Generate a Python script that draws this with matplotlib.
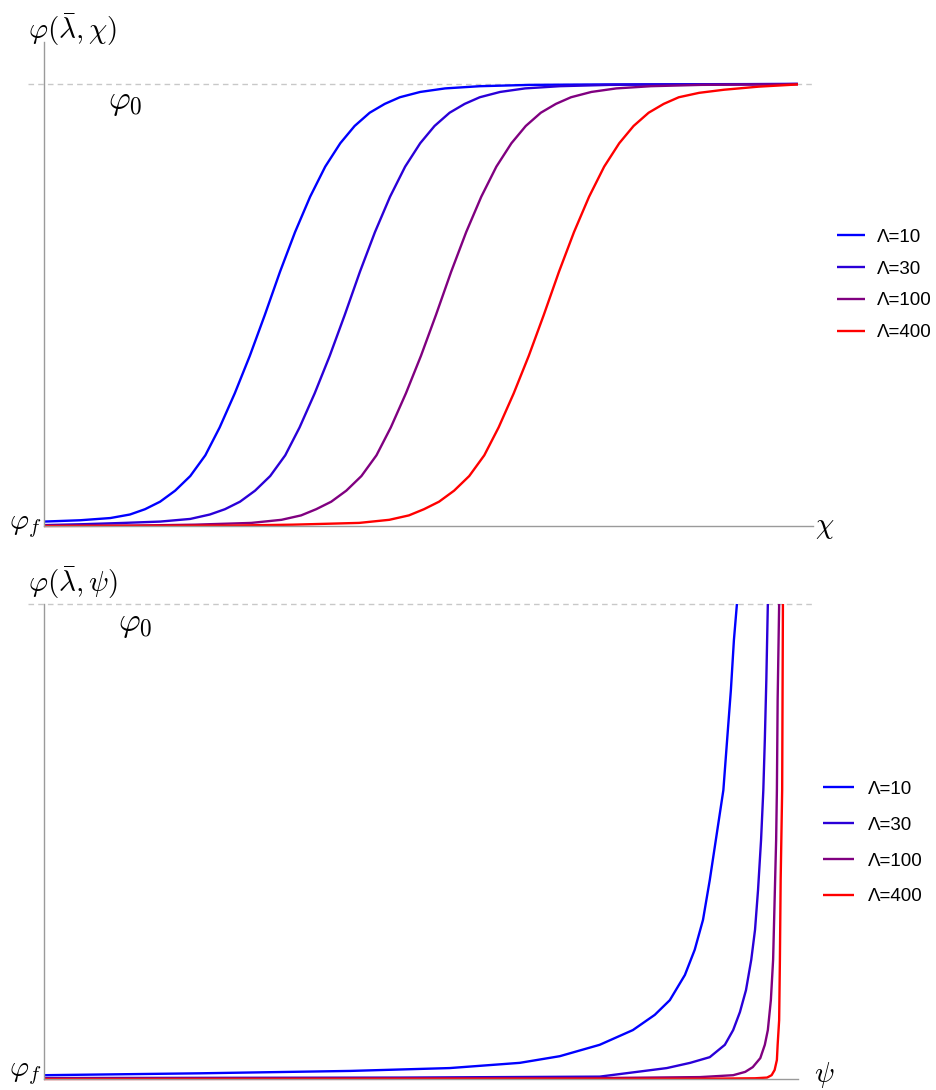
import matplotlib.pyplot as plt
import numpy as np

plt.rcParams['mathtext.fontset'] = 'cm'
plt.rcParams['font.family'] = ['Liberation Sans', 'DejaVu Sans']

labels = ['Λ=10', 'Λ=30', 'Λ=100', 'Λ=400']
colors = ['#0000ff', '#2a00d8', '#800080', '#ff0000']

# top panel: phi(lambda, chi)
chi_10 = [0, 0.48, 0.88, 1.14, 1.34, 1.54, 1.74, 1.94, 2.14, 2.33, 2.53, 2.73, 2.93, 3.13,
          3.33, 3.53, 3.73, 3.93, 4.12, 4.32, 4.52, 4.72, 4.99, 5.32, 5.78, 6.45, 7.37, 10]
phi_10 = [0.010, 0.013, 0.018, 0.026, 0.038, 0.055, 0.080, 0.113, 0.160, 0.223, 0.300, 0.385,
          0.478, 0.575, 0.665, 0.745, 0.813, 0.866, 0.905, 0.935, 0.955, 0.970, 0.982, 0.990,
          0.995, 0.998, 0.999, 1.0]
chi_30 = [0, 0.5, 1.06, 1.54, 1.94, 2.20, 2.40, 2.60, 2.80, 3.00, 3.20, 3.39, 3.59, 3.79, 3.99,
          4.19, 4.39, 4.59, 4.79, 4.99, 5.18, 5.38, 5.58, 5.78, 6.05, 6.38, 6.84, 7.51, 8.43, 10]
phi_30 = [0.002, 0.004, 0.007, 0.010, 0.016, 0.026, 0.038, 0.055, 0.080, 0.113, 0.160, 0.223,
          0.300, 0.385, 0.478, 0.575, 0.665, 0.745, 0.813, 0.866, 0.905, 0.935, 0.955, 0.970,
          0.982, 0.990, 0.995, 0.998, 0.999, 1.0]
chi_100 = [0, 1.2, 2.0, 2.75, 3.15, 3.41, 3.61, 3.81, 4.01, 4.21, 4.41, 4.60, 4.80, 5.00, 5.20,
           5.40, 5.60, 5.80, 6.00, 6.20, 6.39, 6.59, 6.79, 6.99, 7.26, 7.59, 8.05, 8.72, 9.64, 10]
phi_100 = [0.0005, 0.001, 0.003, 0.007, 0.014, 0.024, 0.038, 0.055, 0.080, 0.113, 0.160, 0.223,
           0.300, 0.385, 0.478, 0.575, 0.665, 0.745, 0.813, 0.866, 0.905, 0.935, 0.955, 0.970,
           0.982, 0.990, 0.995, 0.998, 0.999, 1.0]
chi_400 = [0, 2.5, 3.3, 4.18, 4.58, 4.84, 5.04, 5.24, 5.44, 5.64, 5.84, 6.03, 6.23, 6.43, 6.63,
           6.83, 7.03, 7.23, 7.43, 7.63, 7.82, 8.02, 8.22, 8.42, 8.69, 9.02, 9.48, 10]
phi_400 = [0.0, 0.001, 0.003, 0.007, 0.014, 0.024, 0.038, 0.055, 0.080, 0.113, 0.160, 0.223,
           0.300, 0.385, 0.478, 0.575, 0.665, 0.745, 0.813, 0.866, 0.905, 0.935, 0.955, 0.970,
           0.980, 0.987, 0.994, 0.999]

# bottom panel: phi(lambda, psi)
psi_10 = [0, 2.07, 4.06, 5.38, 6.31, 6.84, 7.37, 7.81, 8.10, 8.30, 8.50, 8.63, 8.74, 8.83,
          8.91, 8.97, 9.01, 9.06, 9.11, 9.15, 9.19]
phib_10 = [0.008, 0.012, 0.017, 0.023, 0.034, 0.048, 0.072, 0.103, 0.135, 0.166, 0.219, 0.272,
           0.335, 0.419, 0.503, 0.566, 0.608, 0.714, 0.819, 0.924, 1.0]
psi_30 = [0, 4.72, 7.37, 8.26, 8.57, 8.83, 9.03, 9.14, 9.23, 9.31, 9.38, 9.43, 9.47, 9.51,
          9.54, 9.56, 9.58, 9.60]
phib_30 = [0.002, 0.003, 0.005, 0.023, 0.034, 0.046, 0.072, 0.103, 0.141, 0.187, 0.251, 0.314,
           0.398, 0.503, 0.608, 0.714, 0.84, 1.0]
psi_100 = [0, 7.37, 8.70, 9.14, 9.30, 9.40, 9.50, 9.56, 9.60, 9.64, 9.67, 9.69, 9.71, 9.72,
           9.73, 9.75]
phib_100 = [0.001, 0.002, 0.004, 0.008, 0.015, 0.025, 0.044, 0.072, 0.103, 0.166, 0.251, 0.377,
            0.503, 0.608, 0.798, 1.0]
psi_400 = [0, 8.70, 9.43, 9.59, 9.65, 9.69, 9.72, 9.73, 9.75, 9.76, 9.77, 9.79, 9.80]
phib_400 = [0.0, 0.0006, 0.0015, 0.003, 0.008, 0.019, 0.04, 0.072, 0.124, 0.251, 0.419, 0.608,
            1.0]

top_x = [chi_10, chi_30, chi_100, chi_400]
top_y = [phi_10, phi_30, phi_100, phi_400]
bot_x = [psi_10, psi_30, psi_100, psi_400]
bot_y = [phib_10, phib_30, phib_100, phib_400]

fig = plt.figure(figsize=(9.36, 10.9), dpi=100)
W, H = 936, 1090

def make_axes(left, bottom, right, top):
    return fig.add_axes([left / W, 1 - bottom / H, (right - left) / W, (bottom - top) / H])

def style(ax, xmax, ymax):
    ax.set_xlim(0, xmax)
    ax.set_ylim(0, ymax)
    for s in ['top', 'right']:
        ax.spines[s].set_visible(False)
    for s in ['left', 'bottom']:
        ax.spines[s].set_color('#9a9a9a')
        ax.spines[s].set_linewidth(1.0)
    ax.set_xticks([])
    ax.set_yticks([])
    ax.patch.set_alpha(0)

ax1 = make_axes(44, 526, 813, 42)
style(ax1, 10.2, 1.095)
ax1.plot([-0.21, 10.2], [1, 1], ls=(0, (4, 3)), color='#c8c8c8', lw=1.0, clip_on=False)
for xs, ys, c, lab in zip(top_x, top_y, colors, labels):
    ax1.plot(xs, ys, color=c, lw=1.7, label=lab, clip_on=False, solid_capstyle='butt')

ax2 = make_axes(44, 1079, 798, 604)
style(ax2, 10.0, 1.0)
ax2.plot([-0.21, 10.2], [1, 1], ls=(0, (4, 3)), color='#c8c8c8', lw=1.0, clip_on=False)
for xs, ys, c, lab in zip(bot_x, bot_y, colors, labels):
    ax2.plot(xs, ys, color=c, lw=1.7, label=lab, clip_on=False, solid_capstyle='butt')

ax1.legend(loc='center left', bbox_to_anchor=(837 / W, 1 - 285 / H), bbox_transform=fig.transFigure,
           frameon=False, fontsize=13.5, borderpad=0, borderaxespad=0, handlelength=1.5,
           handletextpad=0.62, labelspacing=0.78)
ax2.legend(loc='center left', bbox_to_anchor=(823 / W, 1 - 843 / H), bbox_transform=fig.transFigure,
           frameon=False, fontsize=13.5, borderpad=0, borderaxespad=0, handlelength=1.66,
           handletextpad=0.75, labelspacing=1.0)

mfs = 21
fig.text(28 / W, 1 - 30 / H, r'$\varphi(\bar{\lambda},\chi)$', fontsize=mfs, va='center', ha='left')
fig.text(108 / W, 1 - 103 / H, r'$\varphi_0$', fontsize=24, va='center', ha='left')
fig.text(9 / W, 1 - 526 / H, r'$\varphi_f$', fontsize=mfs, va='center', ha='left')
fig.text(815 / W, 1 - 527 / H, r'$\chi$', fontsize=mfs, va='center', ha='left')

fig.text(28 / W, 1 - 583 / H, r'$\varphi(\bar{\lambda},\psi)$', fontsize=mfs, va='center', ha='left')
fig.text(118 / W, 1 - 624 / H, r'$\varphi_0$', fontsize=24, va='center', ha='left')
fig.text(9 / W, 1 - 1073 / H, r'$\varphi_f$', fontsize=mfs, va='center', ha='left')
fig.text(814 / W, 1 - 1075 / H, r'$\psi$', fontsize=mfs, va='center', ha='left')

fig.savefig('out.png', dpi=100, facecolor='white')
